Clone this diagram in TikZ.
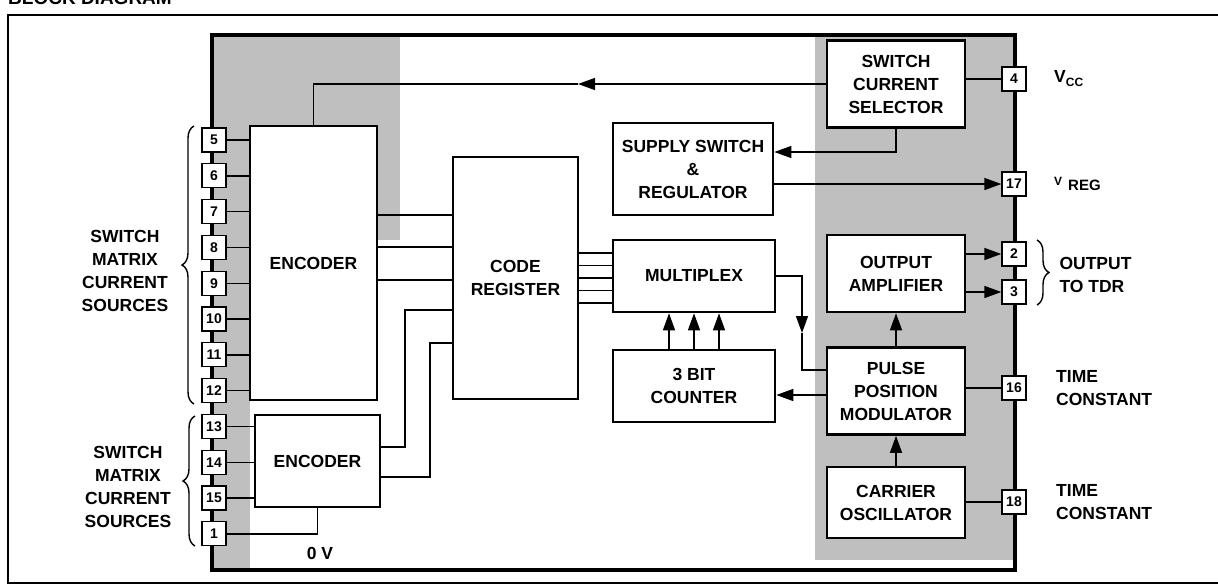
\documentclass[tikz,border=0pt]{standalone}
\usepackage{fontspec}
\setmainfont{Liberation Sans}
\usetikzlibrary{positioning,arrows.meta,decorations.pathreplacing}

\begin{document}
\begin{tikzpicture}[x=1pt,y=-1pt,>={Triangle[length=17pt,width=12pt]},
  font=\bfseries\fontsize{17.5}{23}\selectfont,
  blk/.style={draw,line width=2.6pt,fill=white,align=center,inner sep=2pt},
  pinbox/.style={draw,line width=1.3pt,fill=white,minimum size=24pt,inner sep=0pt,
    font=\bfseries\fontsize{14}{14}\selectfont},
  wire/.style={line width=1.4pt},
  mottle/.style={fill=black!25},
  lbl/.style={align=left,anchor=west}]
  \useasboundingbox (0,0) rectangle (1218,587);
  \node[anchor=base west,inner sep=0pt,font=\bfseries\fontsize{19}{19}\selectfont] (title) at (8,4.5) {BLOCK DIAGRAM};
  \draw[line width=1.6pt] (1218,15) -- (8,15) -- (8,583) -- (1218,583);

  % mottled areas of the die
  \fill[mottle] (212,35) rectangle (400,126);
  \fill[mottle] (212,126) rectangle (250,570);
  \fill[mottle] (377,126) rectangle (400,240);
  \fill[mottle] (815,35) rectangle (1015,560);
  \node[draw,line width=3.2pt,minimum width=803pt,minimum height=535pt] (chip) at (613.5,302.5) {};

  % blocks
  \node[blk,minimum width=127pt,minimum height=274pt] (enc1) at (313.5,263) {ENCODER};
  \node[blk,minimum width=125pt,minimum height=92pt] (enc2) at (317.5,461) {ENCODER};
  \node[blk,minimum width=125pt,minimum height=242pt] (creg) at (515.5,278) {CODE\\REGISTER};
  \node[blk,minimum width=160pt,minimum height=92pt,inner sep=0pt] (sup) at (693,169) {SUPPLY SWITCH\\\&\\REGULATOR};
  \node[blk,minimum width=162pt,minimum height=72pt] (mux) at (694,276) {MULTIPLEX};
  \node[blk,minimum width=162pt,minimum height=72pt] (cnt) at (694,386) {3 BIT\\COUNTER};
  \node[blk,minimum width=138pt,minimum height=87pt] (scs) at (896,84) {SWITCH\\CURRENT\\SELECTOR};
  \node[blk,minimum width=138pt,minimum height=77pt] (oamp) at (896,273.5) {OUTPUT\\AMPLIFIER};
  \node[blk,minimum width=138pt,minimum height=87pt] (ppm) at (896,391) {PULSE\\POSITION\\MODULATOR};
  \node[blk,minimum width=138pt,minimum height=71pt] (osc) at (896,502.5) {CARRIER\\OSCILLATOR};

  % pins, left side
  \node[pinbox] (p5) at (214,140) {5};
  \node[pinbox] (p6) at (214,175.8) {6};
  \node[pinbox] (p7) at (214,211.6) {7};
  \node[pinbox] (p8) at (214,247.4) {8};
  \node[pinbox] (p9) at (214,283.2) {9};
  \node[pinbox] (p10) at (214,319) {10};
  \node[pinbox] (p11) at (214,354.8) {11};
  \node[pinbox] (p12) at (214,390.6) {12};
  \node[pinbox] (p13) at (214,426.4) {13};
  \node[pinbox] (p14) at (214,462.2) {14};
  \node[pinbox] (p15) at (214,498) {15};
  \node[pinbox] (p1) at (214,533.8) {1};
  % pins, right side
  \node[pinbox] (p4) at (1014,79) {4};
  \node[pinbox] (p17) at (1014,184) {17};
  \node[pinbox] (p2) at (1014,254) {2};
  \node[pinbox] (p3) at (1014,292) {3};
  \node[pinbox] (p16) at (1014,388) {16};
  \node[pinbox] (p18) at (1014,502) {18};

  % pins into the encoders
  \path[wire] (p5) edge (p5 -| enc1.west)
              (p6) edge (p6 -| enc1.west)
              (p7) edge (p7 -| enc1.west)
              (p8) edge (p8 -| enc1.west)
              (p9) edge (p9 -| enc1.west)
              (p10) edge (p10 -| enc1.west)
              (p11) edge (p11 -| enc1.west)
              (p12) edge (p12 -| enc1.west)
              (p13) edge (p13 -| enc2.west)
              (p14) edge (p14 -| enc2.west)
              (p15) edge (p15 -| enc2.west);
  \draw[wire] (p1) -| (enc2.south);

  % encoders into the code register
  \path[wire] ([yshift=48pt]enc1.east) edge ([yshift=48pt]enc1.east -| creg.west)
              ([yshift=16pt]enc1.east) edge ([yshift=16pt]enc1.east -| creg.west)
              ([yshift=-17pt]enc1.east) edge ([yshift=-17pt]enc1.east -| creg.west);
  \coordinate (ja) at (405,310);
  \coordinate (jb) at (430,343);
  \draw[wire] ([yshift=14pt]enc2.east) -| (ja) -- (ja -| creg.west);
  \draw[wire] ([yshift=-16pt]enc2.east) -| (jb) -- (jb -| creg.west);

  % code register into the multiplexer
  \path[wire] ([yshift=25pt]creg.east) edge ([yshift=25pt]creg.east -| mux.west)
              ([yshift=12.5pt]creg.east) edge ([yshift=12.5pt]creg.east -| mux.west)
              (creg.east) edge (creg.east -| mux.west)
              ([yshift=-12.5pt]creg.east) edge ([yshift=-12.5pt]creg.east -| mux.west)
              ([yshift=-25pt]creg.east) edge ([yshift=-25pt]creg.east -| mux.west);

  % counter, multiplexer, modulator
  \path[wire,->] ([xshift=-25pt]cnt.north) edge ([xshift=-25pt]mux.south)
                 (cnt.north) edge (mux.south)
                 ([xshift=25pt]cnt.north) edge ([xshift=25pt]mux.south);
  \coordinate (mdn) at (802,333);
  \draw[wire,->] (mux.east) -| (mdn);
  \draw[wire] (mdn) |- ([yshift=21pt]ppm.west);
  \draw[wire,->] ([yshift=-4pt]ppm.west) -- ([yshift=-4pt]ppm.west -| cnt.east);
  \path[wire,->] (ppm) edge (oamp)
                 (osc) edge (ppm);

  % outputs and time constants
  \path[wire,->] (p2 -| oamp.east) edge (p2)
                 (p3 -| oamp.east) edge (p3);
  \path[wire] (p16 -| ppm.east) edge (p16)
              (p18 -| osc.east) edge (p18)
              (p4) edge (p4 -| scs.east);

  % supply
  \coordinate (tipa) at (578,84);
  \draw[wire,->] (scs.west) -- (tipa);
  \draw[wire] (tipa) -| (enc1.north);
  \draw[wire,->] (scs.south) |- ([yshift=17pt]sup.east);
  \draw[wire,->] ([yshift=-15pt]sup.east) -- ([yshift=-15pt]sup.east -| p17.west);

  % braces
  \draw[wire,decorate,decoration={brace,amplitude=12pt}] (194,404) -- (194,126);
  \draw[wire,decorate,decoration={brace,amplitude=12pt}] (195,546) -- (195,416);
  \draw[wire,decorate,decoration={brace,amplitude=12pt}] (1037,240) -- (1037,305);

  % labels
  \node[align=center] (srcl) at (125,271) {SWITCH\\MATRIX\\CURRENT\\SOURCES};
  \node[align=center] (srcs) at (128,487) {SWITCH\\MATRIX\\CURRENT\\SOURCES};
  \node (zv) at (320,553) {0 V};
  \node[lbl,right=24pt of p4] (vcc) {V\raisebox{-4pt}{\fontsize{12}{12}\selectfont CC}};
  \node[lbl,right=24pt of p17] (vreg) {\raisebox{5pt}{\fontsize{12}{12}\selectfont V}\hspace{6pt}{\fontsize{15}{15}\selectfont REG}};
  \node[lbl] (otdr) at (1056,274.5) {OUTPUT\\TO TDR};
  \node[lbl,right=26pt of p16] (tc1) {TIME\\CONSTANT};
  \node[lbl,right=26pt of p18] (tc2) {TIME\\CONSTANT};
\end{tikzpicture}
\end{document}
